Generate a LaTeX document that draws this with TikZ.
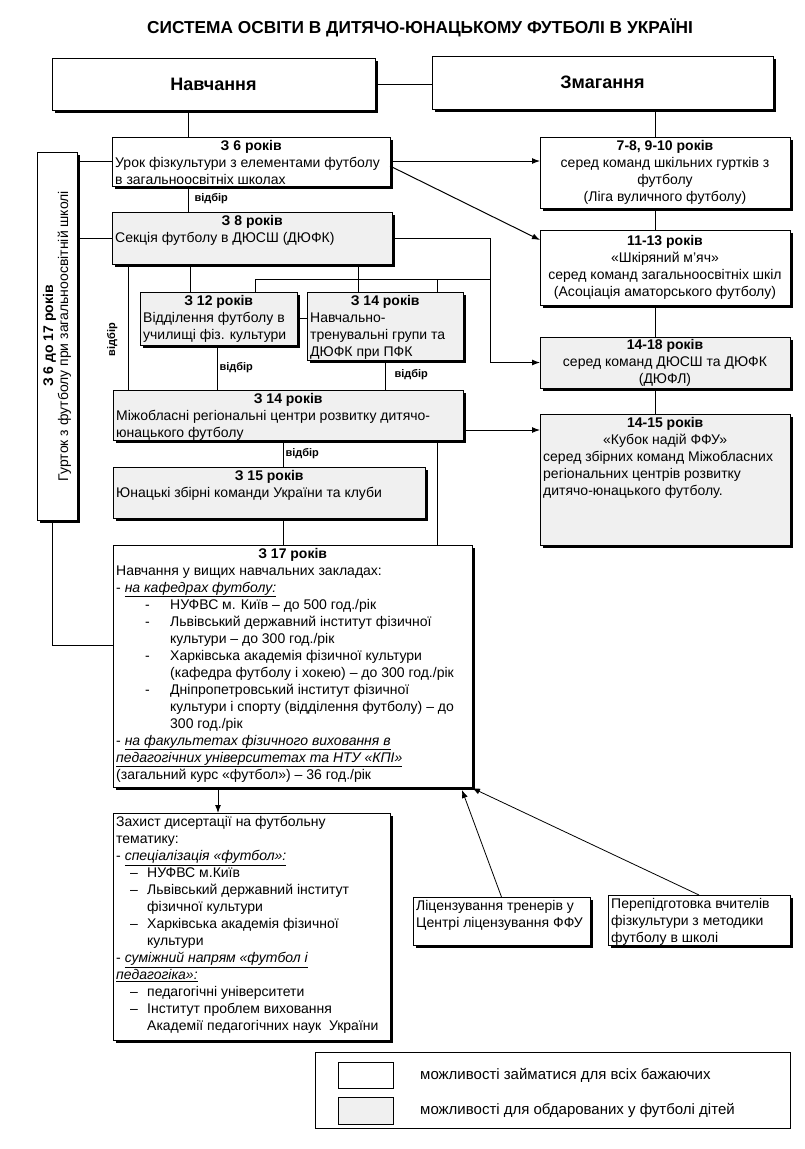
\documentclass[tikz,border=0pt]{standalone}
\usepackage{fontspec}
\setmainfont{Liberation Sans}
\usetikzlibrary{arrows.meta,shadows,calc}
\newcommand\bx[6]{\node[#6, anchor=north west, minimum width=#4pt, minimum height=#5pt] (#1) at (#2,#3) {};}
\newcommand\hd[2]{\makebox[#1pt]{\textbf{#2}}}
\newcommand\cl[2]{\makebox[#1pt]{#2}}
\newcommand\li[1]{\hspace*{29pt}\makebox[25pt][l]{-}#1}
\newcommand\lc[1]{\hspace*{54pt}#1}
\newcommand\di[1]{\hspace*{14pt}\makebox[17pt][l]{–}#1}
\newcommand\dc[1]{\hspace*{31pt}#1}
\begin{document}
\begin{tikzpicture}[x=1pt,y=-1pt]
\tikzset{
 box/.style={draw, line width=1pt, fill=white, inner sep=0pt, outer sep=0pt,
   drop shadow={shadow xshift=2.5pt, shadow yshift=-2.5pt, fill=black, opacity=1}},
 gbox/.style={box, fill=gray!12},
 txt/.style={inner sep=0pt, anchor=north west, align=left, font=\fontsize{14}{17}\selectfont},
 ctxt/.style={inner sep=0pt, align=center, font=\fontsize{14}{17}\selectfont},
 con/.style={line width=1pt},
 arr/.style={con, -{Latex[length=8pt,width=6pt]}},
 tarr/.style={line width=0.8pt, -{Latex[length=8pt,width=6pt]}},
 lbl/.style={font=\fontsize{11}{13}\selectfont\bfseries, inner sep=1pt},
}
\useasboundingbox (0,0) rectangle (805,1149);

\node[font=\fontsize{17.3}{20}\selectfont\bfseries] (title) at (420,28)
  {СИСТЕМА ОСВІТИ В ДИТЯЧО-ЮНАЦЬКОМУ ФУТБОЛІ В УКРАЇНІ};

% boxes
\bx{nav}{52}{58}{323}{52}{box}
\bx{zm}{432}{56}{341}{53}{box}
\bx{urok}{112}{137}{278}{49}{box}
\bx{sek}{112}{212}{280}{52}{gbox}
\bx{gur}{37}{152}{40}{368}{box}
\bx{c78}{540}{137}{250}{71}{box}
\bx{c1113}{540}{230}{250}{75}{box}
\bx{c1418}{540}{337}{250}{51}{gbox}
\bx{c1415}{540}{414}{250}{131}{gbox}
\bx{vid}{140}{292}{157}{53}{gbox}
\bx{nvt}{307}{292}{156}{68}{gbox}
\bx{mizh}{113}{390}{350}{50}{gbox}
\bx{yun}{113}{467}{312}{51}{gbox}
\bx{r17}{113}{545}{359}{242}{box}
\bx{zah}{113}{813}{277}{227}{box}
\bx{lic}{413}{897}{177}{48}{box}
\bx{per}{608}{895}{182}{50}{box}

% texts
\node[font=\fontsize{18}{21}\selectfont\bfseries] (navt) at (nav.center) {Навчання};
\node[font=\fontsize{18}{21}\selectfont\bfseries] (zmt) at (zm.center) {Змагання};

\node[txt] (urokt) at ($(urok.north west)+(3,3)$) {\hd{272}{З 6 років}\\Урок фізкультури з елементами футболу\\в загальноосвітніх школах};
\node[txt] (sekt) at ($(sek.north west)+(3,3)$) {\hd{274}{З 8 років}\\Секція футболу в ДЮСШ (ДЮФК)};
\node[txt] (vidt) at ($(vid.north west)+(3,3)$) {\hd{151}{З 12 років}\\Відділення футболу в\\училищі фіз. культури};
\node[txt] (nvtt) at ($(nvt.north west)+(3,3)$) {\hd{150}{З 14 років}\\Навчально-\\тренувальні групи та\\ДЮФК при ПФК};
\node[txt] (mizht) at ($(mizh.north west)+(3,3)$) {\hd{344}{З 14 років}\\Міжобласні регіональні центри розвитку дитячо-\\юнацького футболу};
\node[txt] (yunt) at ($(yun.north west)+(3,3)$) {\hd{306}{З 15 років}\\Юнацькі збірні команди України та клуби};

\node[ctxt] (c78t) at (c78.center) {\textbf{7-8, 9-10 років}\\серед команд шкільних гуртків з\\футболу\\(Ліга вуличного футболу)};
\node[ctxt] (c1113t) at (c1113.center) {\textbf{11-13 років}\\«Шкіряний м’яч»\\серед команд загальноосвітніх шкіл\\(Асоціація аматорського футболу)};
\node[ctxt] (c1418t) at (c1418.center) {\textbf{14-18 років}\\серед команд ДЮСШ та ДЮФК\\(ДЮФЛ)};
\node[txt] (c1415t) at ($(c1415.north west)+(3,3)$) {\hd{244}{14-15 років}\\\cl{244}{«Кубок надій ФФУ»}\\серед збірних команд Міжобласних\\регіональних центрів розвитку\\дитячо-юнацького футболу.};

\node[txt] (r17t) at ($(r17.north west)+(3,3)$) {\hd{353}{З 17 років}\\
Навчання у вищих навчальних закладах:\\
- \underline{\textit{на кафедрах футболу:}}\\
\li{НУФВС м. Київ – до 500 год./рік}\\
\li{Львівський державний інститут фізичної}\\
\lc{культури – до 300 год./рік}\\
\li{Харківська академія фізичної культури}\\
\lc{(кафедра футболу і хокею) – до 300 год./рік}\\
\li{Дніпропетровський інститут фізичної}\\
\lc{культури і спорту (відділення футболу) – до}\\
\lc{300 год./рік}\\
- \underline{\textit{на факультетах фізичного виховання в}}\\
\underline{\textit{педагогічних університетах та НТУ «КПІ»}}\\
(загальний курс «футбол») – 36 год./рік};

\node[txt] (zaht) at ($(zah.north west)+(3,3)$) {Захист дисертації на футбольну\\
тематику:\\
- \underline{\textit{спеціалізація «футбол»:}}\\
\di{НУФВС м.Київ}\\
\di{Львівський державний інститут}\\
\dc{фізичної культури}\\
\di{Харківська академія фізичної}\\
\dc{культури}\\
- \underline{\textit{суміжний напрям «футбол і}}\\
\underline{\textit{педагогіка»:}}\\
\di{педагогічні університети}\\
\di{Інститут проблем виховання}\\
\dc{Академії педагогічних наук~ України}};

\node[txt] (lict) at ($(lic.north west)+(3,3)$) {Ліцензування тренерів у\\Центрі ліцензування ФФУ};
\node[txt] (pert) at ($(per.north west)+(3,3)$) {Перепідготовка вчителів\\фізкультури з методики\\футболу в школі};

\node[rotate=90, align=center, inner sep=0pt, font=\fontsize{14}{15}\selectfont] (gurt) at (gur.center)
  {\textbf{З 6 до 17 років}\\Гурток з футболу при загальноосвітній школі};

% helper coordinates
\coordinate (k52) at (52,0);
\coordinate (k128) at (128,0);
\coordinate (k188) at (188,0);
\coordinate (k190) at (190,0);
\coordinate (k217) at (217,0);
\coordinate (k218) at (218,0);
\coordinate (k255) at (255,0);
\coordinate (k283) at (283,0);
\coordinate (k358) at (358,0);
\coordinate (k385) at (385,0);
\coordinate (k437) at (437,0);
\coordinate (k490) at (490,0);
\coordinate (k655) at (655,0);
\coordinate (r161) at (0,161);
\coordinate (r238) at (0,238);
\coordinate (r279) at (0,279);
\coordinate (r318) at (0,318);
\coordinate (r430) at (0,430);
\coordinate (r645) at (0,645);

% connectors
\draw[con] (nav.east) -- (nav.east -| zm.west);
\draw[con] (k188 |- nav.south) -- (k188 |- urok.north);
\draw[con] (k655 |- zm.south) -- (k655 |- c78.north);
\draw[con] (k655 |- c78.south) -- (k655 |- c1113.north);
\draw[con] (k655 |- c1113.south) -- (k655 |- c1418.north);
\draw[con] (k655 |- c1418.south) -- (k655 |- c1415.north);

\draw[arr] (urok.east |- r161) -- (c78.west |- r161);
\draw[arr] ($(urok.east |- r161)+(0,5)$) -- ($(c1113.north west)+(0,10)$);

\draw[con] (gur.east |- r161) -- (urok.west |- r161);
\draw[con] (gur.east |- r238) -- (sek.west |- r238);
\draw[con] (k52 |- gur.south) |- (r17.west |- r645);

\draw[con] (k188 |- urok.south) -- (k188 |- sek.north) node[lbl, midway, anchor=west, xshift=5pt] (l1) {відбір};

\draw[arr] (sek.east |- r238) -| (k490 |- c1418.west) -- (c1418.west);
\draw[con] (k255 |- r279) -- (k490 |- r279);
\draw[con] (k190 |- sek.south) -- (k190 |- vid.north);
\draw[con] (k255 |- r279) -- (k255 |- vid.north);
\draw[con] (k358 |- sek.south) -- (k358 |- nvt.north);
\draw[con] (k437 |- r279) -- (k437 |- nvt.north);
\draw[con] (vid.east |- r318) -- (nvt.west |- r318);

\draw[con] (k128 |- sek.south) -- (k128 |- mizh.north) node[lbl, pos=0.6, rotate=90, anchor=south, yshift=9pt] (l2) {відбір};
\draw[con] (k217 |- vid.south) -- (k217 |- mizh.north) node[lbl, midway, anchor=west, xshift=1pt] (l3) {відбір};
\draw[con] (k385 |- nvt.south) -- (k385 |- mizh.north) node[lbl, midway, anchor=west, xshift=8pt] (l4) {відбір};

\draw[arr] (mizh.east |- r430) -- (c1415.west |- r430);
\draw[con] (k283 |- mizh.south) -- (k283 |- yun.north) node[lbl, midway, anchor=west, xshift=1pt] (l5) {відбір};
\draw[con] (k283 |- yun.south) -- (k283 |- r17.north);
\draw[con] (k437 |- mizh.south) -- (k437 |- r17.north);

\draw[arr] (k218 |- r17.south) -- (k218 |- zah.north);
\draw[tarr] (lic.north) -- ($(r17.south east)+(-10,3)$);
\draw[tarr] (per.north) -- ($(r17.south east)+(0,1)$);

% legend
\node[draw, line width=0.8pt, anchor=north west, minimum width=475pt, minimum height=76pt, inner sep=0pt] (leg) at (315,1052) {};
\node[draw, line width=0.8pt, anchor=north west, minimum width=55pt, minimum height=26pt, inner sep=0pt] (leg1) at (338,1062) {};
\node[draw, line width=0.8pt, fill=gray!12, anchor=north west, minimum width=55pt, minimum height=27pt, inner sep=0pt] (leg2) at (338,1097) {};
\node[anchor=west, inner sep=0pt, font=\fontsize{15}{18}\selectfont] (legt1) at (420,1075) {можливості займатися для всіх бажаючих};
\node[anchor=west, inner sep=0pt, font=\fontsize{15}{18}\selectfont] (legt2) at (420,1110) {можливості для обдарованих у футболі дітей};
\end{tikzpicture}
\end{document}
